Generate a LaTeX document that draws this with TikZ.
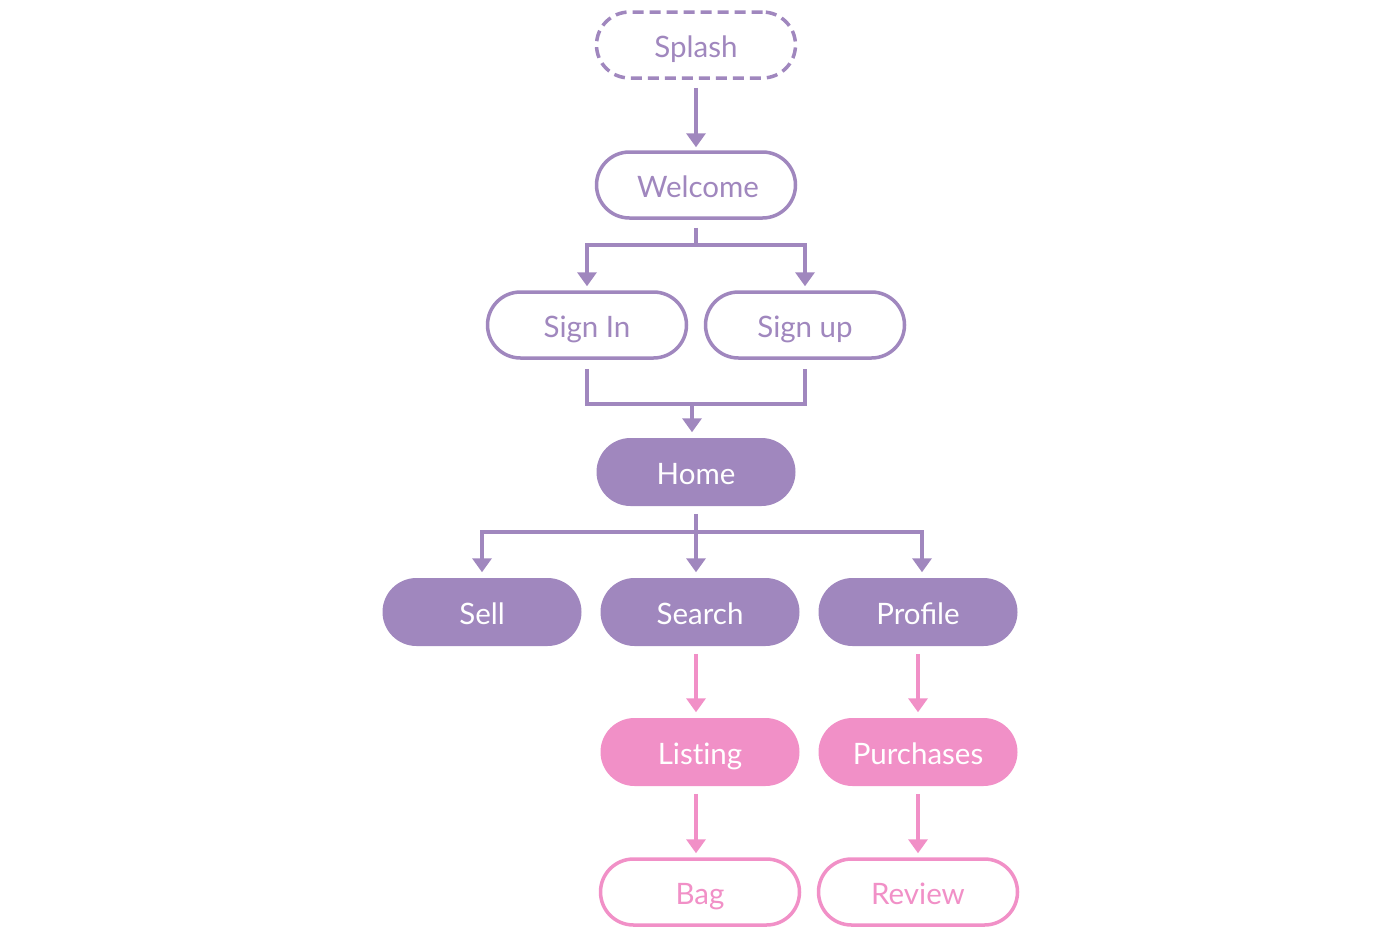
\documentclass[tikz,border=0pt]{standalone}
\usepackage{fontspec}
\setmainfont{Lato}
\usetikzlibrary{arrows.meta}
\definecolor{pur}{HTML}{A087BE}
\definecolor{pnk}{HTML}{F190C7}
\tikzset{
  pill/.style={rounded corners=33pt, minimum width=199pt, minimum height=66pt, inner sep=0pt, line width=3.5pt, font=\fontsize{29.5}{31}\selectfont, text height=28pt, text depth=4pt},
  outp/.style={pill, draw=pur, text=pur, fill=white},
  dashp/.style={outp, dash pattern=on 11pt off 6pt},
  fillp/.style={pill, fill=pur, text=white, minimum height=68pt, rounded corners=34pt},
  fillk/.style={pill, fill=pnk, text=white, minimum height=68pt, rounded corners=34pt},
  outk/.style={pill, draw=pnk, text=pnk, fill=white},
  conn/.style={line width=4pt, draw=pur},
  arr/.style={conn, -{Triangle[width=19pt,length=14pt]}},
  conk/.style={arr, draw=pnk},
}
\begin{document}
\begin{tikzpicture}[x=1pt,y=-1pt]
\useasboundingbox (0,0) rectangle (1400,937);
\node[dashp] (splash) at (696,45) {Splash};
\node[outp] (wel) at (696,185) {\hspace*{4pt}Welcome};
\node[outp] (signin) at (587,325) {Sign In};
\node[outp] (signup) at (805,325) {Sign up};
\node[fillp] (home) at (696,472) {Home};
\node[fillp] (sell) at (482,612) {Sell};
\node[fillp] (search) at (700,612) {Search};
\node[fillp] (profile) at (918,612) {Profile};
\node[fillk] (listing) at (700,752) {List\kern0pt ing};
\node[fillk] (purch) at (918,752) {Purchases};
\node[outk] (bag) at (700,892) {Bag};
\node[outk] (review) at (918,892) {Review};

\coordinate (j1) at (696,245);
\coordinate (j2) at (692,404);
\coordinate (j3) at (696,532);

\draw[arr] ([yshift=-8pt]splash.south -| j1) -- ([yshift=3pt]wel.north -| j1);

\draw[conn] ([yshift=-8pt]wel.south -| j1) -- (j1);
\draw[arr] (j1) -| ([yshift=4pt]signin.north);
\draw[arr] (j1) -| ([yshift=4pt]signup.north);

\draw[conn] ([yshift=-9pt]signin.south) -- (signin.south |- j2) -- (signup.south |- j2) -- ([yshift=-9pt]signup.south);
\draw[arr] (j2) -- ([yshift=4pt]home.north -| j2);

\draw[conn] ([yshift=-6pt]home.south) -- (j3);
\draw[arr] (j3) -| ([yshift=4pt]sell.north);
\draw[arr] (j3) -- ([yshift=4pt]search.north -| j3);
\draw[arr] (j3) -| ([yshift=4pt,xshift=4pt]profile.north);

\draw[conk] ([yshift=-6pt]search.south -| j3) -- ([yshift=4pt]listing.north -| j3);
\draw[conk] ([yshift=-6pt]profile.south) -- ([yshift=4pt]purch.north);
\draw[conk] ([yshift=-6pt]listing.south -| j3) -- ([yshift=4pt]bag.north -| j3);
\draw[conk] ([yshift=-6pt]purch.south) -- ([yshift=4pt]review.north);
\end{tikzpicture}
\end{document}
